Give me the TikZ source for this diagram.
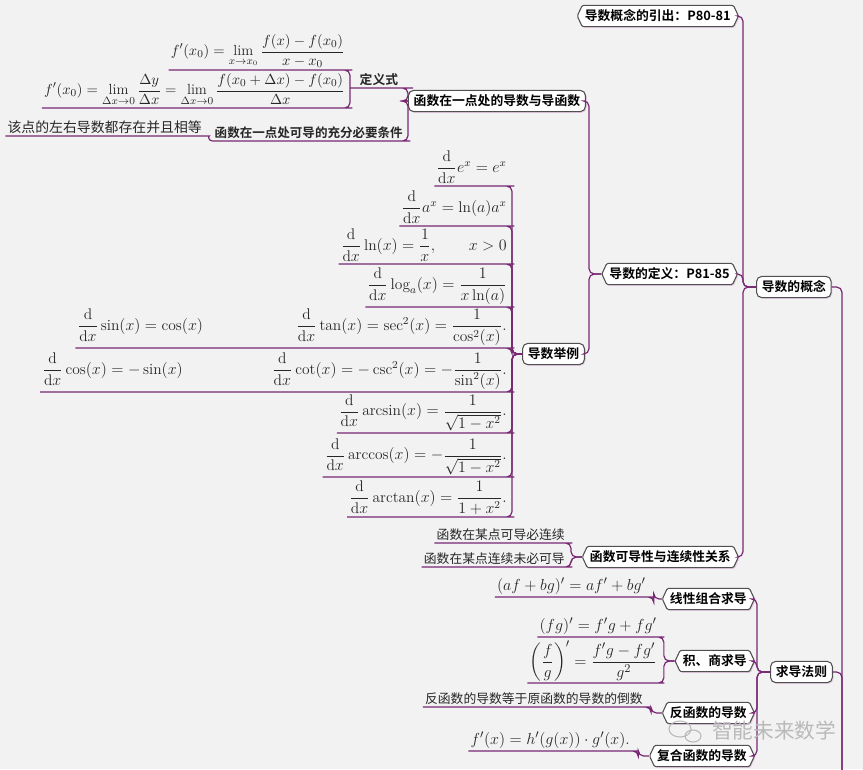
\documentclass[tikz,border=0pt]{standalone}
\usepackage{amsmath}
\usepackage{fontspec}
\newfontfamily\cjk{Noto Sans CJK SC}
\newfontfamily\cjkb{Noto Sans CJK SC Bold}
\usetikzlibrary{shapes.symbols,shadows}
\definecolor{bgc}{RGB}{242,242,242}
\definecolor{linec}{RGB}{120,40,115}
\definecolor{glowc}{RGB}{230,205,230}
\definecolor{framec}{RGB}{80,80,80}
\newcommand{\ddx}{\frac{\mathrm{d}}{\mathrm{d}x}}
\tikzset{
  link/.style={draw=linec, line width=0.9pt, rounded corners=4pt},
  topic/.style={draw=framec, fill=white, line width=0.8pt, font=\cjkb\fontsize{9.6}{11}\selectfont,
    text=black, inner sep=3pt, minimum height=16pt,
    drop shadow={shadow xshift=0.9pt, shadow yshift=-0.9pt, fill=glowc, opacity=1}},
  roundbox/.style={topic, rounded corners=4pt, inner xsep=4pt},
  hexbox/.style={topic, signal, signal to=west and east, signal pointer angle=130,
    rounded corners=1pt, inner xsep=2pt},
  leaf/.style={inner sep=1.5pt, text=black!85, font=\fontsize{11}{13}\selectfont},
  leafzh/.style={leaf, font=\cjk\fontsize{9.6}{11}\selectfont},
  bigmath/.style={leaf, font=\fontsize{11.6}{13}\selectfont},
  rulemath/.style={leaf, font=\fontsize{13}{15}\selectfont},
}
\begin{document}
\begin{tikzpicture}[x=0.75pt,y=-0.75pt]
\fill[bgc] (0,0) rectangle (863,769);
\useasboundingbox (0,0) rectangle (863,769);

% main topics
\node[roundbox, anchor=west] (root) at (756,287) {导数的概念};
\node[hexbox, anchor=east] (intro) at (739,16) {导数概念的引出：P80-81};
\node[hexbox, anchor=east] (defn) at (738,274) {导数的定义：P81-85};
\node[hexbox, anchor=east] (contin) at (739,557) {函数可导性与连续性关系};
\node[roundbox, anchor=east] (pointdef) at (586,101) {函数在一点处的导数与导函数};
\node[roundbox, anchor=east] (examples) at (585,354) {导数举例};
\node[roundbox, anchor=west] (rules) at (770,672) {求导法则};
\node[hexbox, anchor=east] (lin) at (755,599) {线性组合求导};
\node[hexbox, anchor=east] (prodq) at (755,661) {积、商求导};
\node[hexbox, anchor=east] (inv) at (755,713) {反函数的导数};
\node[hexbox, anchor=east] (comp) at (755,756) {复合函数的导数};

\coordinate (b-root) at (743,287);
\coordinate (b-defn) at (589,274);
\coordinate (b-pd) at (408,101);
\coordinate (b-ex) at (512,354);
\coordinate (b-cont) at (571,557);
\coordinate (b-rules) at (757,672);
\coordinate (b-out) at (842,790);

% definition
\node[leaf, font=\cjkb\fontsize{9.6}{11}\selectfont, anchor=south west, minimum width=43pt] (dingyi) at (350,88) {定义式};
\node[leaf, anchor=south east] (def1) at (347,70) {$\displaystyle f'(x_0)=\lim_{x\to x_0}\frac{f(x)-f(x_0)}{x-x_0}$};
\node[leaf, anchor=south east] (def2) at (347,108) {$\displaystyle f'(x_0)=\lim_{\Delta x\to 0}\frac{\Delta y}{\Delta x}=\lim_{\Delta x\to 0}\frac{f(x_0+\Delta x)-f(x_0)}{\Delta x}$};
\node[leafzh, font=\cjkb\fontsize{9.4}{11}\selectfont, anchor=south east] (cond) at (405,141) {函数在一点处可导的充分必要条件};
\node[leafzh, font=\cjk\fontsize{10.4}{12}\selectfont, anchor=south east] (lr) at (204,136) {该点的左右导数都存在并且相等};

% examples
\node[bigmath, anchor=south east] (ex1) at (509,186) {$\displaystyle\ddx e^x=e^x$};
\node[bigmath, anchor=south east] (ex2) at (509,226) {$\displaystyle\ddx a^x=\ln(a)a^x$};
\node[bigmath, anchor=south east] (ex3) at (509,264) {$\displaystyle\ddx\ln(x)=\frac{1}{x},\qquad x>0$};
\node[bigmath, anchor=south east] (ex4) at (509,307) {$\displaystyle\ddx\log_a(x)=\frac{1}{x\ln(a)}$};
\node[bigmath, anchor=south east] (ex5) at (509,348) {$\displaystyle\ddx\sin(x)=\cos(x)$\hspace{70pt}$\displaystyle\ddx\tan(x)=\sec^2(x)=\frac{1}{\cos^2(x)}.$};
\node[bigmath, anchor=south east] (ex6) at (509,392) {$\displaystyle\ddx\cos(x)=-\sin(x)$\hspace{67pt}$\displaystyle\ddx\cot(x)=-\csc^2(x)=-\frac{1}{\sin^2(x)}.$};
\node[bigmath, anchor=south east] (ex7) at (509,433) {$\displaystyle\ddx\arcsin(x)=\frac{1}{\sqrt{1-x^2}}.$};
\node[bigmath, anchor=south east] (ex8) at (509,477) {$\displaystyle\ddx\arccos(x)=-\frac{1}{\sqrt{1-x^2}}.$};
\node[bigmath, anchor=south east] (ex9) at (509,517) {$\displaystyle\ddx\arctan(x)=\frac{1}{1+x^2}.$};

% continuity
\node[leafzh, anchor=south east] (c1) at (567,543) {函数在某点可导必连续};
\node[leafzh, anchor=south east] (c2) at (567,567) {函数在某点连续未必可导};

% rules
\node[rulemath, anchor=south east] (r1) at (648,597) {$(af+bg)'=af'+bg'$};
\node[rulemath, anchor=south east] (r2) at (659,637) {$(fg)'=f'g+fg'$};
\node[rulemath, font=\fontsize{12.6}{15}\selectfont, anchor=south east, inner ysep=1pt] (r3) at (659,683) {$\displaystyle\left(\frac{f}{g}\right)'=\frac{f'g-fg'}{g^2}$};
\node[leafzh, anchor=south east] (r4) at (645,707) {反函数的导数等于原函数的导数的倒数};
\node[rulemath, anchor=south east] (r5) at (632,751) {$f'(x)=h'(g(x))\cdot g'(x).$};

% connectors
\foreach \n in {intro,defn,contin} \draw[link] (\n.east) -| (b-root) -- (root.west);
\foreach \n in {pointdef,examples} \draw[link] (\n.east) -| (b-defn) -- (defn.west);
\foreach \n in {dingyi,cond} \draw[link] (\n.south west) -- (\n.south east) -| (b-pd) -- (pointdef.west);
\foreach \n in {def1,def2} \draw[link] (\n.south west) -- (\n.south east) -| (dingyi.south west);
\draw[link] (lr.south west) -- (lr.south east) to[out=0,in=180] (cond.south west);
\foreach \i in {1,...,9} \draw[link] (ex\i.south west) -- (ex\i.south east) -| (b-ex) -- (examples.west);
\foreach \n in {c1,c2} \draw[link] (\n.south west) -- (\n.south east) -| (b-cont) -- (contin.west);
\foreach \n in {lin,prodq,inv,comp} \draw[link] (\n.east) -| (b-rules) -- (rules.west);
\draw[link] (r1.south west) -- (r1.south east) -| ([xshift=-6pt]lin.west) -- (lin.west);
\foreach \n in {r2,r3} \draw[link] (\n.south west) -- (\n.south east) -| ([xshift=-8pt]prodq.west) -- (prodq.west);
\draw[link] (r4.south west) -- (r4.south east) -| ([xshift=-8pt]inv.west) -- (inv.west);
\draw[link] (r5.south west) -- (r5.south east) -| ([xshift=-8pt]comp.west) -- (comp.west);
\foreach \n in {root,rules} \draw[link] (\n.east) -| (b-out);

% watermark
\draw[gray!55, line width=0.8pt] (680,729) ellipse [x radius=11, y radius=8] (693,736) ellipse [x radius=8, y radius=6];
\node[font=\cjk\fontsize{15.5}{16}\selectfont, text=gray!55] (wm) at (774,731) {智能未来数学};
\end{tikzpicture}
\end{document}
